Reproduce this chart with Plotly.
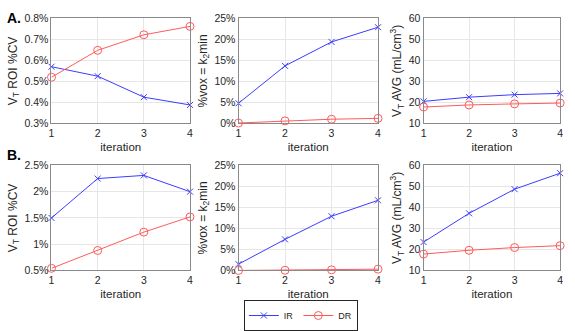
import plotly.graph_objects as go

iterations = [1, 2, 3, 4]

# Row A
a_cv_ir = [0.57, 0.525, 0.425, 0.388]
a_cv_dr = [0.52, 0.648, 0.722, 0.762]
a_vox_ir = [4.8, 13.7, 19.4, 22.9]
a_vox_dr = [0.1, 0.6, 1.0, 1.2]
a_avg_ir = [20.5, 22.5, 23.7, 24.3]
a_avg_dr = [17.8, 18.8, 19.3, 19.7]

# Row B
b_cv_ir = [1.5, 2.25, 2.31, 2.0]
b_cv_dr = [0.54, 0.88, 1.23, 1.52]
b_vox_ir = [1.5, 7.4, 12.9, 16.7]
b_vox_dr = [0.0, 0.05, 0.15, 0.3]
b_avg_ir = [23.5, 37.2, 48.7, 56.3]
b_avg_dr = [17.8, 19.6, 20.9, 21.8]

a_cv_ticks = [0.3, 0.4, 0.5, 0.6, 0.7, 0.8]
b_cv_ticks = [0.5, 1, 1.5, 2, 2.5]
vox_ticks = [0, 5, 10, 15, 20, 25]
avg_ticks = [10, 20, 30, 40, 50, 60]

panels = [
    (a_cv_ir, a_cv_dr, [0.3, 0.8], a_cv_ticks, "%", "V<sub>T</sub> ROI %CV"),
    (a_vox_ir, a_vox_dr, [0, 25], vox_ticks, "%", "%vox = k<sub>2</sub>min"),
    (a_avg_ir, a_avg_dr, [10, 60], avg_ticks, "", "V<sub>T</sub> AVG (mL/cm<sup>3</sup>)"),
    (b_cv_ir, b_cv_dr, [0.5, 2.5], b_cv_ticks, "%", "V<sub>T</sub> ROI %CV"),
    (b_vox_ir, b_vox_dr, [0, 25], vox_ticks, "%", "%vox = k<sub>2</sub>min"),
    (b_avg_ir, b_avg_dr, [10, 60], avg_ticks, "", "V<sub>T</sub> AVG (mL/cm<sup>3</sup>)"),
]

W, H = 575, 331
xdoms = [(49, 189), (238, 379), (425, 563)]
ydoms = [(13, 123), (167, 277)]

BLUE = "#3c3cff"
RED = "#ff5a5a"
FONT = "Liberation Sans, Arial, sans-serif"
TXT = "#262626"

fig = go.Figure()
layout = dict(
    width=W, height=H, margin=dict(l=0, r=0, t=0, b=0),
    paper_bgcolor="white", plot_bgcolor="white",
    font=dict(family=FONT, size=10, color=TXT),
    showlegend=True,
)

for i, (ir, dr, yr, tv, suf, ytitle) in enumerate(panels):
    r, c = divmod(i, 3)
    n = "" if i == 0 else str(i + 1)
    xa, ya = "x" + n, "y" + n
    fig.add_trace(go.Scatter(
        x=iterations, y=ir, mode="lines+markers", name="IR", xaxis=xa, yaxis=ya,
        line=dict(color=BLUE, width=1),
        marker=dict(symbol="x-thin", size=6, line=dict(color=BLUE, width=1), color=BLUE),
        showlegend=(i == 0), legendgroup="IR", cliponaxis=False))
    fig.add_trace(go.Scatter(
        x=iterations, y=dr, mode="lines+markers", name="DR", xaxis=xa, yaxis=ya,
        line=dict(color=RED, width=1),
        marker=dict(symbol="circle-open", size=8, line=dict(color=RED, width=1), color=RED),
        showlegend=(i == 0), legendgroup="DR", cliponaxis=False))
    x0, x1 = xdoms[c]
    y0, y1 = ydoms[r]
    layout["xaxis" + n] = dict(
        domain=[x0 / W, x1 / W], anchor=ya, range=[1, 4], tickvals=iterations,
        showgrid=True, gridcolor="#e6e6e6", zeroline=False,
        showline=True, mirror=True, linecolor="#8a8a8a", linewidth=1,
        ticks="", tickfont=dict(size=10.5, color=TXT),
        title=dict(text="iteration", font=dict(size=11.5, color=TXT), standoff=4),
    )
    layout["yaxis" + n] = dict(
        domain=[1 - y1 / H, 1 - y0 / H], anchor=xa, range=yr, tickmode="array",
        tickvals=tv, ticktext=[f"{v:g}{suf}" for v in tv],
        showgrid=True, gridcolor="#e6e6e6", zeroline=False,
        showline=True, mirror=True, linecolor="#8a8a8a", linewidth=1,
        ticks="", tickfont=dict(size=10.5, color=TXT),
        title=dict(text=ytitle, font=dict(size=12, color=TXT), standoff=4),
    )

layout["legend"] = dict(
    orientation="h", x=301 / W, xanchor="center", y=1 - 308 / H, yanchor="top",
    bordercolor="#262626", borderwidth=1, bgcolor="white",
    font=dict(size=9, color=TXT), itemwidth=30, tracegroupgap=0,
)
layout["annotations"] = [
    dict(text="<b>A.</b>", x=2 / W, y=1 - 2 / H, xref="paper", yref="paper",
         xanchor="left", yanchor="top", showarrow=False, font=dict(size=14, color="black")),
    dict(text="<b>B.</b>", x=2 / W, y=1 - 146 / H, xref="paper", yref="paper",
         xanchor="left", yanchor="top", showarrow=False, font=dict(size=14, color="black")),
]
fig.update_layout(**layout)
fig.write_html("out.html")
